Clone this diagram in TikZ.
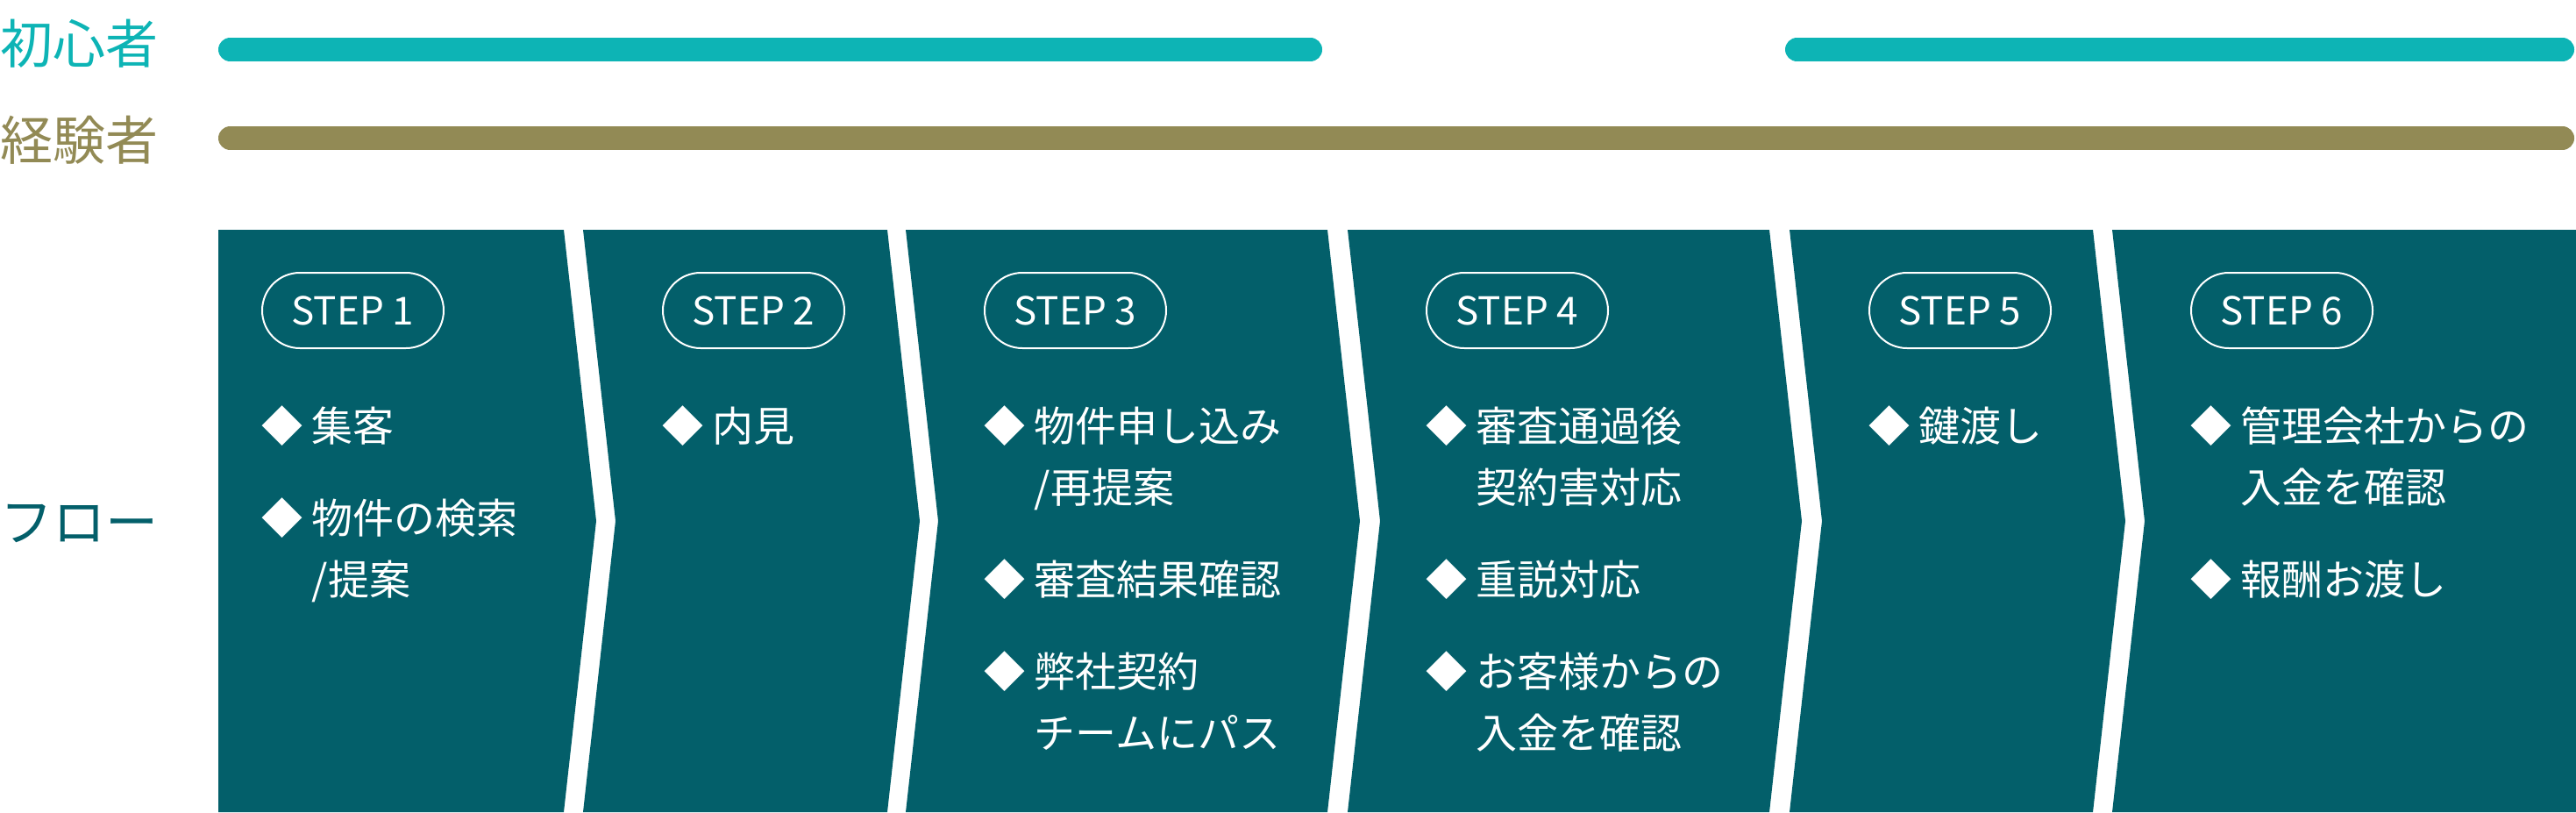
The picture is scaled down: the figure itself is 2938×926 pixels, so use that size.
\documentclass[tikz,border=0pt]{standalone}
\usepackage{fontspec}
\setmainfont{Noto Sans CJK JP}
\definecolor{shoshin}{HTML}{0DB4B5}
\definecolor{keiken}{HTML}{928A55}
\definecolor{flow}{HTML}{035F6A}

\begin{document}
\begin{tikzpicture}[x=1pt,y=-1pt,line join=round,line cap=round,
    lbl/.style={anchor=west,inner sep=0pt,font=\fontsize{60}{60}\selectfont},
    pill/.style={draw=white,line width=2pt,rounded corners=43pt,minimum width=207pt,minimum height=86pt,
      anchor=west,inner sep=0pt,text=white,font=\fontsize{44}{44}\selectfont},
    item/.style={anchor=base west,align=left,inner sep=0pt,text=white,font=\fontsize{47}{70}\selectfont}]
  \useasboundingbox (0,0) rectangle (2938,926);
  % who does which steps
  \node[lbl,text=shoshin] (shoshin) at (0,50) {初心者};
  \node[lbl,text=keiken] (keiken) at (0,160) {経験者};
  \node[lbl,text=flow] (flow) at (0,597) {フロー};
  \draw[shoshin,line width=27pt] (262.5,56.5)--(1494.5,56.5) (2049.5,56.5)--(2922.5,56.5);
  \draw[keiken,line width=27pt] (262.5,157.5)--(2922.5,157.5);
  % chevrons
  \fill[flow] (249,262)--(643,262)--(680,594)--(643,926)--(249,926)--cycle;
  \foreach \l/\r in {665/1012,1033/1514,1537/2018,2041/2387}
    {\fill[flow] (\l,262)--(\r,262)--(\r+37,594)--(\r,926)--(\l,926)--(\l+37,594)--cycle;}
  \fill[flow] (2409,262)--(2938,262)--(2938,926)--(2409,926)--(2446,594)--cycle;
  % steps (y = baseline of the last line)
  \foreach \x/\n in {298/1,755/2,1122/3,1626/4,2131/5,2498/6}
    {\node[pill] (step\n) at (\x,354) {STEP \n};}
  \foreach \x/\y/\nm/\t in {298/503/a1/{◆ 集客},
      298/678/a2/{◆ 物件の検索\\\phantom{◆ }/提案},
      755/503/b1/{◆ 内見},
      1122/573/c1/{◆ 物件申し込み\\\phantom{◆ }/再提案},
      1122/678/c2/{◆ 審査結果確認},
      1122/853/c3/{◆ 弊社契約\\\phantom{◆ }チームにパス},
      1626/573/d1/{◆ 審査通過後\\\phantom{◆ }契約害対応},
      1626/678/d2/{◆ 重説対応},
      1626/853/d3/{◆ お客様からの\\\phantom{◆ }入金を確認},
      2131/503/e1/{◆ 鍵渡し},
      2498/573/f1/{◆ 管理会社からの\\\phantom{◆ }入金を確認},
      2498/678/f2/{◆ 報酬お渡し}}
    {\node[item] (\nm) at (\x,\y) {\t};}
\end{tikzpicture}
\end{document}
